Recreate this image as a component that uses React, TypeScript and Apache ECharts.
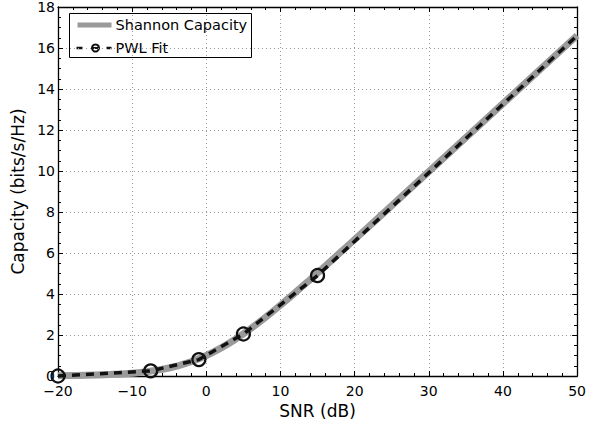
import React, { useEffect, useRef } from "react";
import * as echarts from "echarts";

const snrDb = [-20, -15, -12, -10, -8, -6, -4, -2, 0, 2, 4, 6, 8, 10, 12, 14, 16, 18, 20, 25, 30, 35, 40, 45, 50];
const shannonCap = [0.0144, 0.0449, 0.0883, 0.1375, 0.2124, 0.3233, 0.4834, 0.7057, 1.0, 1.3701, 1.8123, 2.3165, 2.8698, 3.4594, 4.074, 4.707, 5.351, 6.002, 6.658, 8.309, 9.967, 11.627, 13.288, 14.949, 16.61];

const pwlSnr = [-20, -7.5, -1, 5, 15, 50];
const pwlCap = [0, 0.25, 0.8, 2.05, 4.9, 16.6];
const pwlMarked = [true, true, true, true, true, false];

const legendNames = ["Shannon Capacity", "PWL Fit"];

const FONT = "DejaVu Sans, sans-serif";
const fmt = (v: number) => (v < 0 ? "\u2212" + Math.abs(v) : String(v));

export default function App() {
  const ref = useRef<HTMLDivElement>(null);
  useEffect(() => {
    if (!ref.current) return;
    const chart = echarts.init(ref.current, undefined, { renderer: "svg" });
    const axisLine = { show: true, onZero: false, lineStyle: { color: "#000", width: 1.3 } };
    const axisTick = { show: true, inside: true, length: 5, lineStyle: { color: "#000", width: 1 } };
    const minor = (n: number) => ({ show: true, splitNumber: n, length: 3, lineStyle: { color: "#000", width: 1 } });
    const grid = { color: "#9a9a9a", type: [1, 3], width: 1 };
    const txt = { color: "#000", fontFamily: FONT };
    chart.setOption({
      animation: false,
      backgroundColor: "#fff",
      textStyle: { fontFamily: FONT },
      grid: { left: 58, right: 11, top: 6, bottom: 49 },
      xAxis: [
        {
          type: "value",
          min: -20,
          max: 50,
          interval: 10,
          minorTick: minor(5),
          axisLine,
          axisTick,
          axisLabel: { ...txt, fontSize: 14, margin: 8, formatter: fmt },
          splitLine: { show: true, lineStyle: grid },
          name: "SNR (dB)",
          nameLocation: "middle",
          nameGap: 23,
          nameTextStyle: { ...txt, fontSize: 17 },
        },
        {
          type: "value",
          position: "top",
          min: -20,
          max: 50,
          interval: 10,
          minorTick: minor(5),
          axisLine,
          axisTick,
          axisLabel: { show: false },
          splitLine: { show: false },
        },
      ],
      yAxis: [
        {
          type: "value",
          min: 0,
          max: 18,
          interval: 2,
          minorTick: minor(4),
          axisLine,
          axisTick,
          axisLabel: { ...txt, fontSize: 14, margin: 3 },
          splitLine: { show: true, lineStyle: grid },
          name: "Capacity (bits/s/Hz)",
          nameLocation: "middle",
          nameGap: 29,
          nameRotate: 90,
          nameTextStyle: { ...txt, fontSize: 17 },
        },
        {
          type: "value",
          position: "right",
          min: 0,
          max: 18,
          interval: 2,
          minorTick: minor(4),
          axisLine,
          axisTick,
          axisLabel: { show: false },
          splitLine: { show: false },
        },
      ],
      graphic: [
        {
          type: "group",
          left: 69,
          top: 13,
          z: 100,
          children: [
            { type: "rect", shape: { x: 0, y: 0, width: 182, height: 44 }, style: { fill: "#fff", stroke: "#000", lineWidth: 1 } },
            { type: "line", shape: { x1: 8, y1: 11.5, x2: 42, y2: 11.5 }, style: { stroke: "#9a9a9a", lineWidth: 5 } },
            { type: "text", x: 46, y: 11.5, style: { text: legendNames[0], fill: "#000", font: "14.5px DejaVu Sans", verticalAlign: "middle" } },
            { type: "line", shape: { x1: 7, y1: 34.5, x2: 13, y2: 34.5 }, style: { stroke: "#111", lineWidth: 2.5 } },
            { type: "line", shape: { x1: 22, y1: 34.5, x2: 30, y2: 34.5 }, style: { stroke: "#111", lineWidth: 2 } },
            { type: "circle", shape: { cx: 26, cy: 34.5, r: 3.5 }, style: { fill: "none", stroke: "#111", lineWidth: 2 } },
            { type: "line", shape: { x1: 37, y1: 34.5, x2: 42, y2: 34.5 }, style: { stroke: "#111", lineWidth: 2.5 } },
            { type: "text", x: 46, y: 34.5, style: { text: legendNames[1], fill: "#000", font: "14.5px DejaVu Sans", verticalAlign: "middle" } },
          ],
        },
      ],
      series: [
        {
          name: legendNames[0],
          type: "line",
          smooth: true,
          showSymbol: false,
          symbol: "none",
          data: snrDb.map((x, i) => [x, shannonCap[i]]),
          lineStyle: { color: "#9a9a9a", width: 7 },
          z: 2,
        },
        {
          name: legendNames[1],
          type: "line",
          data: pwlSnr.map((x, i) => ({
            value: [x, pwlCap[i]],
            symbol: pwlMarked[i] ? "circle" : "none",
          })),
          symbol: "circle",
          symbolSize: 13,
          showAllSymbol: true,
          lineStyle: { color: "#111", width: 3.5, type: [8, 6] },
          itemStyle: { color: "rgba(0,0,0,0)", borderColor: "#111", borderWidth: 2.2 },
          clip: false,
          z: 3,
        },
      ],
    });
    return () => chart.dispose();
  }, []);
  return <div ref={ref} style={{ width: 589, height: 425, position: "absolute", left: 0, top: 0 }} />;
}
